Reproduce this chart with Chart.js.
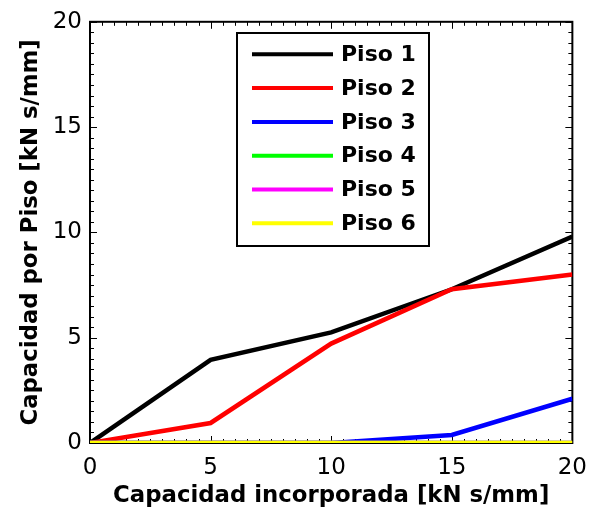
<!DOCTYPE html>
<html><head><meta charset="utf-8">
<script src="https://cdn.jsdelivr.net/npm/chart.js@4.4.0/dist/chart.umd.min.js"></script>
<style>html,body{margin:0;padding:0;background:#fff}#wrap{width:598px;height:518px}</style>
</head><body><div id="wrap"><canvas id="c" width="598" height="518"></canvas></div>
<script>
const xValues = [0, 5, 10, 15, 20];
const piso1 = [0, 3.95, 5.25, 7.3, 9.8];
const piso2 = [0, 0.95, 4.72, 7.3, 8.0];
const piso3 = [0, 0, 0, 0.38, 2.1];
const piso4 = [0, 0, 0, 0, 0];
const piso5 = [0, 0, 0, 0, 0];
const piso6 = [0, 0, 0, 0, 0];
const seriesLabels = ['Piso 1','Piso 2','Piso 3','Piso 4','Piso 5','Piso 6'];
const seriesColors = ['#000000','#ff0000','#0000ff','#00ff00','#ff00ff','#ffff00'];
const xTicks = [0, 5, 10, 15, 20];
const yTicks = [0, 5, 10, 15, 20];
const xTitle = 'Capacidad incorporada [kN s/mm]';
const yTitle = 'Capacidad por Piso [kN s/mm]';

const allSeries = [piso1, piso2, piso3, piso4, piso5, piso6];
const datasets = allSeries.map((s, i) => ({
  label: seriesLabels[i],
  data: s.map((v, j) => ({x: xValues[j], y: v})),
  borderColor: seriesColors[i],
  backgroundColor: seriesColors[i],
  borderWidth: 4.5,
  pointRadius: 0,
  tension: 0,
  order: 5 - i
}));

const FONT = '"DejaVu Sans", sans-serif';

const boxPlugin = {
  id: 'boxTicks',
  beforeDatasetsDraw(chart) {
    const ctx = chart.ctx, a = chart.chartArea;
    const xs = chart.scales.x, ys = chart.scales.y;
    ctx.save();
    ctx.strokeStyle = '#000';
    ctx.lineWidth = 2;
    ctx.strokeRect(a.left, a.top, a.right - a.left, a.bottom - a.top);
    ctx.lineWidth = 1;
    for (let v = 0; v <= 20.0001; v += 0.5) {
      const major = Math.abs(v % 5) < 1e-6;
      const L = major ? 7 : 4;
      const px = Math.round(xs.getPixelForValue(v)) + 0.5;
      ctx.beginPath();
      ctx.moveTo(px, a.bottom); ctx.lineTo(px, a.bottom - L);
      ctx.moveTo(px, a.top); ctx.lineTo(px, a.top + L);
      ctx.stroke();
      const py = Math.round(ys.getPixelForValue(v)) + 0.5;
      ctx.beginPath();
      ctx.moveTo(a.left, py); ctx.lineTo(a.left + L, py);
      ctx.moveTo(a.right, py); ctx.lineTo(a.right - L, py);
      ctx.stroke();
    }
    ctx.restore();
  },
  afterDatasetsDraw(chart) {
    const ctx = chart.ctx;
    ctx.save();
    const bx = 237, by = 33, bw = 192, bh = 213;
    ctx.fillStyle = '#fff';
    ctx.fillRect(bx, by, bw, bh);
    ctx.strokeStyle = '#000';
    ctx.lineWidth = 2;
    ctx.strokeRect(bx, by, bw, bh);
    ctx.font = 'bold 22px ' + FONT;
    ctx.textBaseline = 'middle';
    ctx.textAlign = 'left';
    chart.data.datasets.forEach((d, i) => {
      const y = by + 21.3 + i * 33.8;
      ctx.strokeStyle = d.borderColor;
      ctx.lineWidth = 4;
      ctx.beginPath();
      ctx.moveTo(252, y); ctx.lineTo(333, y);
      ctx.stroke();
      ctx.fillStyle = '#000';
      ctx.fillText(d.label, 341, y + 1);
    });
    ctx.restore();
  }
};

new Chart(document.getElementById('c'), {
  type: 'line',
  data: { datasets },
  options: {
    responsive: false,
    animation: false,
    layout: { padding: { left: 0, right: 23, top: 20, bottom: 0 } },
    plugins: { legend: { display: false }, tooltip: { enabled: false } },
    scales: {
      x: {
        type: 'linear', min: 0, max: 20,
        afterBuildTicks: s => { s.ticks = xTicks.map(v => ({value: v})); },
        afterFit: s => { s.height = 75; },
        grid: { display: false, drawTicks: false },
        border: { display: false },
        ticks: { color: '#000', padding: 11, font: { family: FONT, size: 23 }, maxRotation: 0 },
        title: { display: true, text: xTitle, color: '#000', padding: { top: 8, bottom: 8 }, font: { family: FONT, size: 22.8, weight: 'bold' } }
      },
      y: {
        type: 'linear', min: 0, max: 20,
        afterBuildTicks: s => { s.ticks = yTicks.map(v => ({value: v})); },
        afterFit: s => { s.width = 90; },
        grid: { display: false, drawTicks: false },
        border: { display: false },
        ticks: { color: '#000', padding: 8, font: { family: FONT, size: 23 } },
        title: { display: true, text: yTitle, color: '#000', padding: { top: 17, bottom: 17 }, font: { family: FONT, size: 22.8, weight: 'bold' } }
      }
    }
  },
  plugins: [boxPlugin]
});
</script></body></html>
